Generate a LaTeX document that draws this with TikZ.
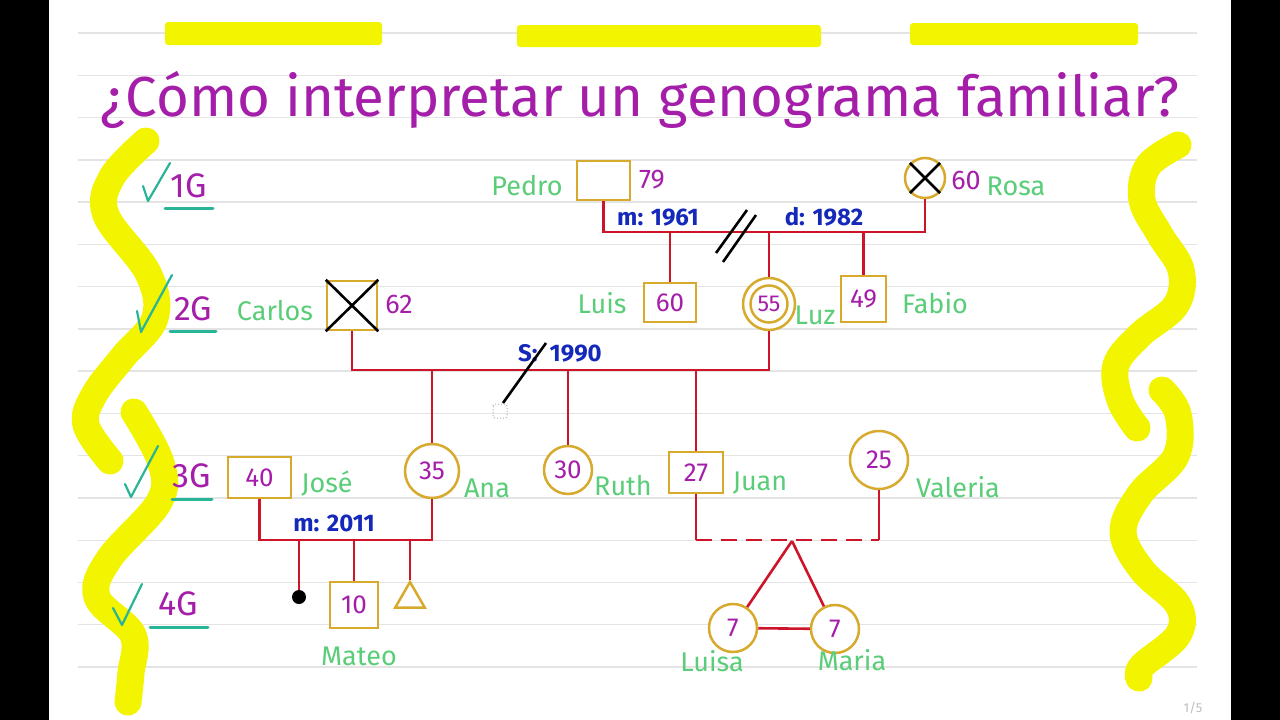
\documentclass[tikz,border=0pt]{standalone}
\usepackage{fontspec}
\setmainfont{Fira Sans}
\usetikzlibrary{shapes.geometric,calc}
\definecolor{pur}{RGB}{165,30,170}
\definecolor{grn}{RGB}{90,205,120}
\definecolor{tealc}{RGB}{40,180,150}
\definecolor{blu}{RGB}{20,40,185}
\definecolor{redl}{RGB}{205,20,40}
\definecolor{gold}{RGB}{215,170,45}
\definecolor{yel}{RGB}{242,244,0}
\definecolor{rulec}{RGB}{228,228,228}
\tikzset{
  rel/.style={draw=redl, line width=2.6pt},
  male/.style={draw=gold, line width=2.5pt, rectangle, fill=white, inner sep=0pt, text=pur, font=\fontsize{26}{28}\selectfont},
  female/.style={male, circle},
  nm/.style={text=grn, font=\fontsize{27}{30}\selectfont, inner sep=0pt},
  age/.style={text=pur, font=\fontsize{27}{29}\selectfont, inner sep=0pt},
  lbl/.style={text=blu, font=\bfseries\fontsize{24}{26}\selectfont, inner sep=0pt},
  gen/.style={text=pur, font=\fontsize{34}{36}\selectfont, inner sep=0pt},
  chk/.style={draw=tealc, line width=2.2pt, line cap=round, line join=round},
  ul/.style={draw=tealc, line width=3pt, line cap=round},
  hl/.style={draw=yel, line width=27pt, line cap=round, line join=round},
  blk/.style={draw=black, line width=2.6pt},
  rulel/.style={draw=rulec, line width=1.4pt}
}
\begin{document}
\begin{tikzpicture}[x=1pt,y=-1pt]
\useasboundingbox (0,0) rectangle (1280,720);
% page
\fill[black] (0,0) rectangle (1280,720);
\fill[white] (49,0) rectangle (1231,720);
% ruled lines
\foreach \k in {0,...,15} \draw[rulel] (78,{33+42.27*\k}) -- (1197,{33+42.27*\k});
% highlighter strips
\fill[yel, rounded corners=3pt] (165,22) rectangle (382,45);
\fill[yel, rounded corners=3pt] (517,25) rectangle (821,47);
\fill[yel, rounded corners=3pt] (910,23) rectangle (1138,45);
% squiggles
\draw[hl] plot[smooth, tension=0.6] coordinates {(146,141) (112,177) (106,215) (148,273) (155,318) (123,357) (94,395) (86,425) (110,461)};
\draw[hl] plot[smooth, tension=0.6] coordinates {(134,412) (161,463) (159,502) (109,559) (97,597) (133,635) (131,673) (128,702)};
\draw[hl] plot[smooth, tension=0.6] coordinates {(1178,145) (1148,166) (1142,200) (1160,235) (1181,270) (1176,305) (1140,335) (1116,365) (1120,400) (1137,428)};
\draw[hl] plot[smooth, tension=0.6] coordinates {(1162,390) (1178,414) (1176,456) (1140,494) (1123,532) (1142,570) (1178,605) (1178,635) (1142,666) (1139,678)};
% title
\node[text=pur, anchor=base, inner sep=0pt] (title) at (640,116)
  {\resizebox{1078pt}{!}{\fontsize{52}{56}\selectfont ¿Cómo interpretar un genograma familiar?}};
% generations
\draw[chk] (143,186) -- (148,201) -- (170,163);
\node[gen] (g1) at (189,186) {1G};
\draw[ul] (165,208) -- (213,208);
\draw[chk] (137,311) -- (141,332) -- (172,275);
\node[gen] (g2) at (193,309) {2G};
\draw[ul] (170,331) -- (216,331);
\draw[chk] (125,484) -- (131,497) -- (158,446);
\node[gen] (g3) at (192,476) {3G};
\draw[ul] (172,499) -- (212,499);
\draw[chk] (113,608) -- (122,625) -- (142,584);
\node[gen] (g4) at (178,604) {4G};
\draw[ul] (150,627) -- (208,627);
% ---- people
\node[male, minimum width=53pt, minimum height=39pt] (pedro) at (603.5,180.5) {};
\node[nm] (pedron) at (527,186) {Pedro};
\node[age] (pedroa) at (652,180) {79};
\node[female, minimum size=40pt] (rosa) at (925,178) {};
\draw[blk] (rosa.north west) -- (rosa.south east) (rosa.north east) -- (rosa.south west);
\node[age] (rosaa) at (966,180) {60};
\node[nm] (rosan) at (1016,186) {Rosa};

\node[male, minimum width=52pt, minimum height=39pt] (luis) at (670,302.5) {60};
\node[nm] (luisn) at (602,303) {Luis};
\node[female, minimum size=52pt] (luz) at (769,304) {};
\draw[draw=gold, line width=2.5pt] (luz.center) circle (18.5);
\node[text=pur, font=\fontsize{23}{25}\selectfont] (luza) at (769,304) {55};
\node[nm] (luzn) at (815,315) {Luz};
\node[male, minimum width=45pt, minimum height=46pt] (fabio) at (863.5,299) {49};
\node[nm] (fabion) at (935,303) {Fabio};

\node[male, minimum width=50pt, minimum height=49pt] (carlos) at (352,305.5) {};
\draw[blk] (carlos.north west) -- (carlos.south east) (carlos.north east) -- (carlos.south west);
\node[nm] (carlosn) at (275,311) {Carlos};
\node[age] (carlosa) at (399,304) {62};

\node[male, minimum width=63pt, minimum height=41pt] (jose) at (259.5,477.5) {40};
\node[nm] (josen) at (327,484) {José};
\node[female, minimum size=54pt] (ana) at (432,471) {35};
\node[nm] (anan) at (487,488) {Ana};
\node[female, minimum size=48pt] (ruth) at (568,470) {30};
\node[nm] (ruthn) at (623,486) {Ruth};
\node[male, minimum width=54pt, minimum height=41pt] (juan) at (696,472.5) {27};
\node[nm] (juann) at (760,483) {Juan};
\node[female, minimum size=58pt] (vale) at (879,460) {25};
\node[nm] (valen) at (958,487) {Valeria};

\node[circle, fill=black, minimum size=14pt, inner sep=0pt] (misc) at (299,597) {};
\node[male, minimum width=48pt, minimum height=46pt] (mateo) at (354,605) {10};
\node[nm] (mateon) at (359,656) {Mateo};
\node[regular polygon, regular polygon sides=3, draw=gold, line width=2.5pt, minimum size=34pt, inner sep=0pt] (tri) at (410,599) {};

\node[female, minimum size=48pt] (luisa) at (733,628) {7};
\node[nm] (luisan) at (712,661) {Luisa};
\node[female, minimum size=48pt] (maria) at (835,629) {7};
\node[nm] (marian) at (852,660) {Maria};

% ---- relations
\coordinate (pr) at (760,232);
\draw[rel] (pedro.south) |- (pr) -| (rosa.south);
\draw[rel] (luis.north) -- (luis.north |- pr);
\draw[rel] (luz.north) -- (luz.north |- pr);
\draw[rel] (fabio.north) -- (fabio.north |- pr);
\node[lbl] (m1961) at (658,218) {m: 1961};
\node[lbl] (d1982) at (824,217) {d: 1982};
\draw[blk] (716,253) -- (747,210);
\draw[blk] (723,262) -- (756,215);

\coordinate (cl) at (560,370);
\draw[rel] (carlos.south) |- (cl) -| (luz.south);
\draw[rel] (ana.north) -- (ana.north |- cl);
\draw[rel] (ruth.north) -- (ruth.north |- cl);
\draw[rel] (juan.north) -- (juan.north |- cl);
\node[lbl] (s1990) at (560,353) {S:\hspace{12pt}1990};
\draw[blk] (503,403) -- (546,343);
\draw[gray!60, dotted, line width=1pt, rounded corners=2pt] (493,404) rectangle (507,418);

\coordinate (ja) at (350,540);
\draw[rel] (jose.south) |- (ja) -| (ana.south);
\draw[rel] (misc.north) -- (misc.north |- ja);
\draw[rel] (mateo.north) -- (mateo.north |- ja);
\draw[rel] (tri.corner 1) -- (tri.corner 1 |- ja);
\node[lbl] (m2011) at (334,523) {m: 2011};

\coordinate (jv) at (790,540);
\draw[rel] (juan.south) -- (juan.south |- jv) coordinate (jl);
\draw[rel] (vale.south) -- (vale.south |- jv) coordinate (jr);
\draw[rel, dash pattern=on 16pt off 9pt] (jl) -- (jr);
\coordinate (tw) at (792,541);
\draw[rel] (tw) -- (luisa);
\draw[rel] (tw) -- (maria);
\draw[rel] (luisa) -- (maria);

\node[text=gray!50, font=\fontsize{13}{14}\selectfont] (page) at (1193,708) {1/5};
\end{tikzpicture}
\end{document}
